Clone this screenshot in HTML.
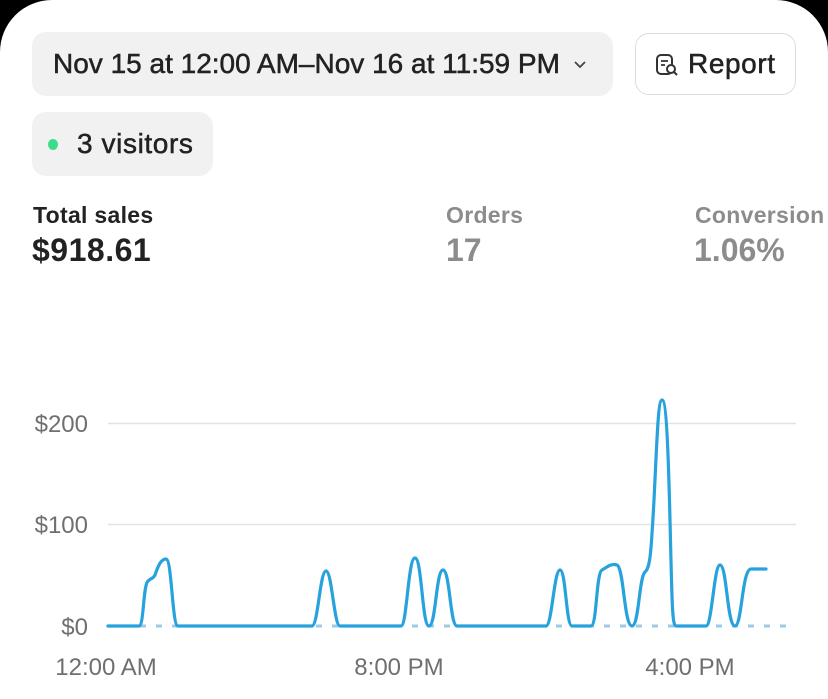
<!DOCTYPE html>
<html><head><meta charset="utf-8"><style>
html,body{margin:0;padding:0;background:#000;}
.card{position:relative;width:828px;height:699px;background:#fff;border-radius:52px 52px 0 0;overflow:hidden;font-family:"Liberation Sans",sans-serif;}
.pill{position:absolute;background:#f1f1f2;border-radius:14px;}
.t{position:absolute;white-space:nowrap;}
.s{-webkit-text-stroke:0.5px #222;}
</style></head><body>
<div class="card">
<div class="pill" style="left:32px;top:32px;width:581px;height:64px;"></div>
<div class="t s" style="left:53px;top:48px;font-size:28px;color:#222;letter-spacing:0px;">Nov 15 at 12:00 AM–Nov 16 at 11:59 PM</div>
<svg style="position:absolute;left:572px;top:59px" width="16" height="12"><path d="M3 3 L8 8 L13 3" fill="none" stroke="#444" stroke-width="1.8"/></svg>
<div style="position:absolute;left:635px;top:33px;width:159px;height:60px;border:1.5px solid #ddd;border-radius:14px;"></div>
<svg style="position:absolute;left:655px;top:53px" width="26" height="26"><rect x="2" y="2" width="15" height="19" rx="4" fill="none" stroke="#333" stroke-width="2"/><circle cx="16" cy="16" r="4" fill="#fff" stroke="#333" stroke-width="2"/><path d="M19 19 L22 22" stroke="#333" stroke-width="2"/><path d="M6 8 H13 M6 12 H10" stroke="#333" stroke-width="1.8"/></svg>
<div class="t s" style="left:688px;top:48px;font-size:28px;color:#222;letter-spacing:0.6px;">Report</div>
<div class="pill" style="left:32px;top:112px;width:181px;height:64px;"></div>
<div style="position:absolute;left:48px;top:139px;width:10px;height:11px;border-radius:50%;background:#3bdc8a;"></div>
<div class="t s" style="left:77px;top:128px;font-size:28px;color:#222;letter-spacing:0.6px;">3 visitors</div>
<div class="t" style="left:33px;top:202px;font-size:23px;font-weight:bold;color:#222;letter-spacing:0.3px;">Total sales</div>
<div class="t" style="left:32px;top:232px;font-size:32px;font-weight:bold;color:#222;letter-spacing:0.5px;">$918.61</div>
<div class="t" style="left:446px;top:202px;font-size:23px;font-weight:bold;color:#8c8c8c;letter-spacing:0.3px;">Orders</div>
<div class="t" style="left:446px;top:232px;font-size:32px;font-weight:bold;color:#8c8c8c;">17</div>
<div class="t" style="left:695px;top:202px;font-size:23px;font-weight:bold;color:#8c8c8c;letter-spacing:0.3px;">Conversion</div>
<div class="t" style="left:694px;top:232px;font-size:32px;font-weight:bold;color:#8c8c8c;">1.06%</div>
<svg style="position:absolute;left:0;top:0" width="828" height="699">
<g font-family="Liberation Sans, sans-serif" font-size="24" fill="#6f6f6f">
<text x="88" y="432" text-anchor="end">$200</text>
<text x="88" y="533" text-anchor="end">$100</text>
<text x="88" y="635" text-anchor="end">$0</text>
<text x="106" y="675" text-anchor="middle">12:00 AM</text>
<text x="399" y="675" text-anchor="middle">8:00 PM</text>
<text x="690" y="675" text-anchor="middle">4:00 PM</text>
</g>
<line x1="108" y1="423.5" x2="796" y2="423.5" stroke="#e3e3e3" stroke-width="1.5"/>
<line x1="108" y1="524.5" x2="796" y2="524.5" stroke="#e3e3e3" stroke-width="1.5"/>
<line x1="140" y1="626" x2="796" y2="626" stroke="#9ccbe3" stroke-width="3" stroke-dasharray="6 10"/>
<path fill="none" stroke="#27a2dc" stroke-width="3.2" stroke-linejoin="round" stroke-linecap="round" d="
M108 626 L139 626 C144 626 143 585 148 581 C152 577 152 580 155 575 C158 566 161 559 166 559 C172 559 172 626 178 626
L312 626 C318 626 320 571 326 571 C332 571 334 626 340 626
L401 626 C407 626 408 558 415 558 C422 558 422 626 429 626 C436 626 436 570 443 570 C450 570 450 626 457 626
L546 626 C552 626 554 570 560 570 C566 570 566 626 572 626
L591 626 C597 626 596 573 602 570 C607 567 612 563 617 565 C624 568 624 626 632 626 C639 626 639 577 645 572 C650 568 651 555 654 500 C657 440 658 400 662 400 C666 400 668 440 670 520 C672 600 672 626 676 626
L706 626 C712 626 714 565 720 565 C727 565 727 626 735 626 C742 626 742 569 751 569 L766 569"/>
</svg>
</div>
</body></html>
